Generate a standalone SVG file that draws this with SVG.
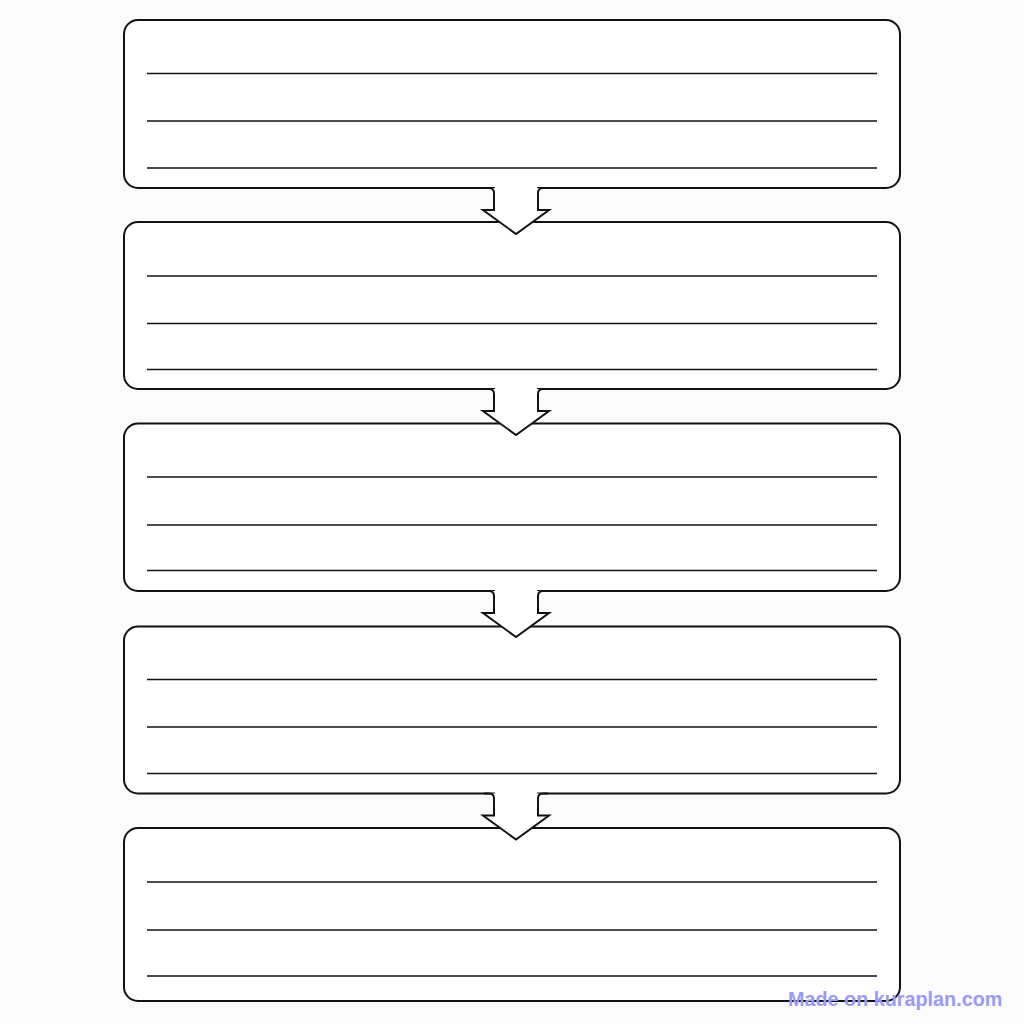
<svg xmlns="http://www.w3.org/2000/svg" width="1024" height="1024" viewBox="0 0 1024 1024">
<style>
.box{fill:#ffffff;stroke:#111;stroke-width:2}
.rule{stroke:#111;stroke-width:1.6}
.arrow{fill:#ffffff;stroke:#111;stroke-width:2;stroke-linejoin:miter}
.cover{fill:#ffffff;stroke:none}
.wm{font-family:"Liberation Sans",Arial,sans-serif;font-weight:bold;font-size:19.8px;fill:#9a9af5}
</style>
<rect width="1024" height="1024" fill="#fbfbfb"/>
<g id="node1">
<rect class="box" x="124" y="20" width="776" height="168" rx="14"/>
<line class="rule" x1="147" y1="73.5" x2="877" y2="73.5"/>
<line class="rule" x1="147" y1="121" x2="877" y2="121"/>
<line class="rule" x1="147" y1="168" x2="877" y2="168"/>
</g>
<g id="node2">
<rect class="box" x="124" y="222" width="776" height="167" rx="14"/>
<line class="rule" x1="147" y1="276" x2="877" y2="276"/>
<line class="rule" x1="147" y1="323.5" x2="877" y2="323.5"/>
<line class="rule" x1="147" y1="369.5" x2="877" y2="369.5"/>
</g>
<g id="node3">
<rect class="box" x="124" y="423.5" width="776" height="167.5" rx="14"/>
<line class="rule" x1="147" y1="477" x2="877" y2="477"/>
<line class="rule" x1="147" y1="525" x2="877" y2="525"/>
<line class="rule" x1="147" y1="570.5" x2="877" y2="570.5"/>
</g>
<g id="node4">
<rect class="box" x="124" y="626.5" width="776" height="167" rx="14"/>
<line class="rule" x1="147" y1="679.5" x2="877" y2="679.5"/>
<line class="rule" x1="147" y1="727" x2="877" y2="727"/>
<line class="rule" x1="147" y1="773.5" x2="877" y2="773.5"/>
</g>
<g id="node5">
<rect class="box" x="124" y="828" width="776" height="173" rx="14"/>
<line class="rule" x1="147" y1="882" x2="877" y2="882"/>
<line class="rule" x1="147" y1="930" x2="877" y2="930"/>
<line class="rule" x1="147" y1="976" x2="877" y2="976"/>
</g>
<g id="connectors">
<g transform="translate(0,188)">
<rect class="cover" x="495" y="-3" width="42" height="6"/>
<path class="arrow" d="M 484 0 H 489 Q 494 0 494 5 V 22 H 483 L 516 46 L 549 22 H 538 V 5 Q 538 0 543 0 H 548"/>
</g>
<g transform="translate(0,389)">
<rect class="cover" x="495" y="-3" width="42" height="6"/>
<path class="arrow" d="M 484 0 H 489 Q 494 0 494 5 V 22 H 483 L 516 46 L 549 22 H 538 V 5 Q 538 0 543 0 H 548"/>
</g>
<g transform="translate(0,591)">
<rect class="cover" x="495" y="-3" width="42" height="6"/>
<path class="arrow" d="M 484 0 H 489 Q 494 0 494 5 V 22 H 483 L 516 46 L 549 22 H 538 V 5 Q 538 0 543 0 H 548"/>
</g>
<g transform="translate(0,793.5)">
<rect class="cover" x="495" y="-3" width="42" height="6"/>
<path class="arrow" d="M 484 0 H 489 Q 494 0 494 5 V 22 H 483 L 516 46 L 549 22 H 538 V 5 Q 538 0 543 0 H 548"/>
</g>
</g>
<text class="wm" x="788" y="1006">Made on kuraplan.com</text>
</svg>
